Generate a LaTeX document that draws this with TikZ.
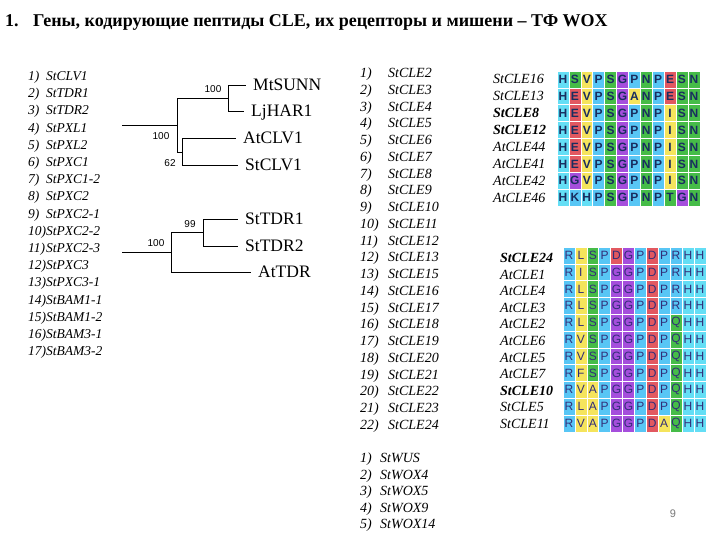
\documentclass[tikz,border=0pt]{standalone}
\usepackage{fontspec}
\setmainfont{Liberation Serif}
\setsansfont{Liberation Sans}
\usetikzlibrary{positioning}
% residue colours
\definecolor{aaH}{RGB}{100,222,245}
\definecolor{aaP}{RGB}{88,198,245}
\definecolor{aaR}{RGB}{88,198,245}
\definecolor{aaK}{RGB}{88,198,245}
\definecolor{aaS}{RGB}{70,188,72}
\definecolor{aaN}{RGB}{70,188,72}
\definecolor{aaT}{RGB}{70,188,72}
\definecolor{aaQ}{RGB}{70,188,72}
\definecolor{aaV}{RGB}{245,228,92}
\definecolor{aaI}{RGB}{245,228,92}
\definecolor{aaL}{RGB}{245,228,92}
\definecolor{aaA}{RGB}{245,228,92}
\definecolor{aaF}{RGB}{245,228,92}
\definecolor{aaG}{RGB}{165,78,220}
\definecolor{aaE}{RGB}{226,88,96}
\definecolor{aaD}{RGB}{226,88,96}
\definecolor{topletter}{RGB}{25,45,95}
\definecolor{lowletter}{RGB}{50,45,120}
\definecolor{pagegray}{RGB}{120,120,120}

\begin{document}
\begin{tikzpicture}[x=1pt,y=-1pt,
  every node/.style={inner sep=0pt},
  branch/.style={line width=0.8pt},
  boot/.style={font=\sffamily\fontsize{10}{12}\selectfont},
  taxon/.style={anchor=west,text depth=0pt,font=\fontsize{17.5}{20}\selectfont},
  genename/.style={anchor=base west,font=\itshape\fontsize{14}{16}\selectfont},
  topcell/.style={draw=white,line width=0.6pt,minimum width=11.9pt,minimum height=16.9pt,
    text=topletter,font=\sffamily\bfseries\fontsize{12}{12}\selectfont},
  lowcell/.style={draw=white,line width=0.6pt,minimum width=11.9pt,minimum height=16.8pt,
    text=lowletter,font=\sffamily\fontsize{12}{12}\selectfont}]
\useasboundingbox (0,0) rectangle (720,540);

% title
\node[anchor=base west,font=\bfseries\fontsize{18}{20}\selectfont] (num) at (5,27) {1.};
\node[anchor=base west,font=\bfseries\fontsize{18}{20}\selectfont] (title) at (33,27)
  {Гены, кодирующие пептиды CLE, их рецепторы и мишени – ТФ WOX};

% receptor genes
\foreach \gene [count=\i] in {StCLV1,StTDR1,StTDR2,StPXL1,StPXL2,StPXC1,StPXC1-2,StPXC2,
  StPXC2-1,StPXC2-2,StPXC2-3,StPXC3,StPXC3-1,StBAM1-1,StBAM1-2,StBAM3-1,StBAM3-2}
  \node[genename,font=\itshape\fontsize{13.5}{16}\selectfont] (rec\i) at (28,80.5+17.2*\i-17.2)
    {\makebox[18pt][l]{\i)}\gene};

% tree, CLV1 clade
\coordinate (r1) at (122,125);
\coordinate (n1) at (177,125);
\coordinate (n2) at (228,98);
\coordinate (n3) at (182,152);
\node[taxon] (mtsunn) at (253,85) {MtSUNN};
\node[taxon] (ljhar) at (251,111) {LjHAR1};
\node[taxon] (atclv) at (243,138) {AtCLV1};
\node[taxon] (stclv) at (245,165) {StCLV1};
\draw[branch] (r1) -- (n1);
\draw[branch] (n1) |- (n2);
\draw[branch] (n1) |- (n3);
\draw[branch] (n2) |- ([xshift=-7pt]mtsunn.west);
\draw[branch] (n2) |- ([xshift=-7pt]ljhar.west);
\draw[branch] (n3) |- ([xshift=-7pt]atclv.west);
\draw[branch] (n3) |- ([xshift=-7pt]stclv.west);
\node[boot] (b1) at (213,89) {100};
\node[boot] (b2) at (161,136) {100};
\node[boot] (b3) at (170,163) {62};

% tree, TDR clade
\coordinate (r2) at (122,252);
\coordinate (n4) at (171,252);
\coordinate (n5) at (203,232);
\node[taxon] (sttdr1) at (245,219) {StTDR1};
\node[taxon] (sttdr2) at (245,246) {StTDR2};
\node[taxon] (attdr) at (258,272) {AtTDR};
\draw[branch] (r2) -- (n4);
\draw[branch] (n4) |- (n5);
\draw[branch] (n4) |- ([xshift=-7pt]attdr.west);
\draw[branch] (n5) |- ([xshift=-7pt]sttdr1.west);
\draw[branch] (n5) |- ([xshift=-7pt]sttdr2.west);
\node[boot] (b4) at (190,224) {99};
\node[boot] (b5) at (156,243) {100};

% CLE genes
\foreach \gene [count=\i] in {StCLE2,StCLE3,StCLE4,StCLE5,StCLE6,StCLE7,StCLE8,StCLE9,StCLE10,
  StCLE11,StCLE12,StCLE13,StCLE15,StCLE16,StCLE17,StCLE18,StCLE19,StCLE20,StCLE21,StCLE22,
  StCLE23,StCLE24}
{
  \node[genename] (clen\i) at (360,77.5+16.76*\i-16.76) {\i)};
  \node[genename] (cle\i) at (388,77.5+16.76*\i-16.76) {\gene};
}

% WOX genes
\foreach \gene [count=\i] in {StWUS,StWOX4,StWOX5,StWOX9,StWOX14}
{
  \node[genename] (woxn\i) at (360,462.5+16.5*\i-16.5) {\i)};
  \node[genename] (wox\i) at (380,462.5+16.5*\i-16.5) {\gene};
}

% alignment 1
\foreach \name [count=\r] in {StCLE16,StCLE13,\bfseries StCLE8,\bfseries StCLE12,
  AtCLE44,AtCLE41,AtCLE42,AtCLE46}
  \node[genename] (ta\r) at (493,67+16.9*\r) {\name};
\foreach \seq [count=\r] in {{H,S,V,P,S,G,P,N,P,E,S,N},{H,E,V,P,S,G,A,N,P,E,S,N},
  {H,E,V,P,S,G,P,N,P,I,S,N},{H,E,V,P,S,G,P,N,P,I,S,N},{H,E,V,P,S,G,P,N,P,I,S,N},
  {H,E,V,P,S,G,P,N,P,I,S,N},{H,G,V,P,S,G,P,N,P,I,S,N},{H,K,H,P,S,G,P,N,P,T,G,N}}
  \foreach \aa [count=\c] in \seq
    \node[topcell,fill=aa\aa] (t-\r-\c) at (551.05+11.9*\c,62.55+16.9*\r) {\aa};

% alignment 2
\foreach \name [count=\r] in {\bfseries StCLE24,AtCLE1,AtCLE4,AtCLE3,AtCLE2,AtCLE6,
  AtCLE5,AtCLE7,\bfseries StCLE10,StCLE5,StCLE11}
  \node[genename] (la\r) at (500,245.9+16.6*\r) {\name};
\foreach \seq [count=\r] in {{R,L,S,P,D,G,P,D,P,R,H,H},{R,I,S,P,G,G,P,D,P,R,H,H},
  {R,L,S,P,G,G,P,D,P,R,H,H},{R,L,S,P,G,G,P,D,P,R,H,H},{R,L,S,P,G,G,P,D,P,Q,H,H},
  {R,V,S,P,G,G,P,D,P,Q,H,H},{R,V,S,P,G,G,P,D,P,Q,H,H},{R,F,S,P,G,G,P,D,P,Q,H,H},
  {R,V,A,P,G,G,P,D,P,Q,H,H},{R,L,A,P,G,G,P,D,P,Q,H,H},{R,V,A,P,G,G,P,D,A,Q,H,H}}
  \foreach \aa [count=\c] in \seq
    \node[lowcell,fill=aa\aa] (l-\r-\c) at (557.05+11.9*\c,238.6+16.8*\r) {\aa};

% page number
\node[text=pagegray,font=\sffamily\fontsize{11}{12}\selectfont] (page) at (673,514) {9};
\end{tikzpicture}
\end{document}
